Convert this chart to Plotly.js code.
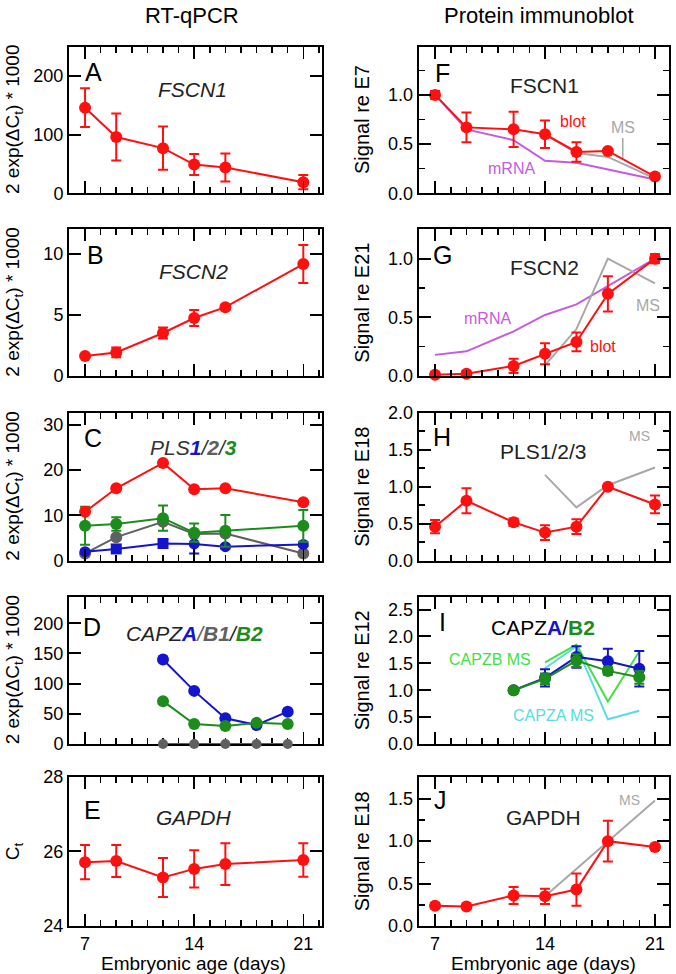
<!DOCTYPE html>
<html>
<head>
<meta charset="utf-8">
<script src="https://cdn.plot.ly/plotly-3.0.1.min.js"></script>
<style>body{margin:0;background:#fff}</style>
</head>
<body>
<div id="plotArea" style="width:676px;height:974px"></div>
<script>
// ---- RT-qPCR (left column) ----
var qDays = [7, 9, 12, 14, 16, 21];
var fscn1Rna = [146, 96, 77, 49, 44, 19];
var fscn1RnaErr = [33, 40, 37, 18, 24, 12];
var fscn2Rna = [1.63, 1.93, 3.52, 4.74, 5.63, 9.16];
var fscn2RnaErr = [0.15, 0.4, 0.45, 0.65, 0.2, 1.55];
var plsSum = [10.8, 16.0, 21.6, 15.8, 16.0, 12.9];
var pls1 = [2.0, 2.6, 3.8, 3.7, 3.1, 3.6];
var pls1Err = [0.4, 0.5, 0.5, 2.1, 0.4, 0.4];
var pls2 = [1.6, 5.2, 8.6, 5.9, 6.0, 1.6];
var pls3 = [7.7, 8.1, 9.4, 6.2, 6.6, 7.7];
var pls3Err = [4.2, 1.5, 2.8, 2.0, 3.5, 3.5];
var capDays = [12, 14, 16, 18, 20];
var capzaRna = [140, 88, 42.5, 31.5, 53.5];
var capzb1Rna = [0, 0, 0, 0, 0];
var capzb2Rna = [71, 33, 30, 35, 33];
var gapdhCt = [25.71, 25.74, 25.30, 25.53, 25.66, 25.77];
var gapdhCtErr = [0.46, 0.43, 0.52, 0.50, 0.56, 0.45];

// ---- immunoblot (right column) ----
var blotDays = [7, 9, 12, 14, 16, 18, 21];
var msDays = [14, 16, 18, 21];
var fscn1Blot = [1.0, 0.67, 0.65, 0.60, 0.42, 0.43, 0.17];
var fscn1BlotErr = [0.04, 0.15, 0.18, 0.14, 0.1, 0.02, 0.02];
var fscn1Mrna = [1.0, 0.65, 0.54, 0.33, 0.31, 0.14];
var fscn1Ms = [0.60, 0.41, 0.37, 0.15];
var fscn2Blot = [0.01, 0.02, 0.086, 0.19, 0.29, 0.70, 1.0];
var fscn2BlotErr = [0.02, 0.02, 0.06, 0.09, 0.08, 0.15, 0.04];
var fscn2Mrna = [0.18, 0.21, 0.38, 0.52, 0.61, 1.0];
var fscn2Ms = [0.09, 0.40, 1.0, 0.79];
var plsBlot = [0.46, 0.81, 0.52, 0.38, 0.46, 1.0, 0.76];
var plsBlotErr = [0.09, 0.17, 0.05, 0.1, 0.1, 0.02, 0.12];
var plsMs = [1.16, 0.72, 1.02, 1.26];
var capzaBlot = [1.0, 1.23, 1.62, 1.54, 1.40];
var capzaBlotErr = [0.03, 0.16, 0.2, 0.23, 0.33];
var capzb2Blot = [1.0, 1.21, 1.55, 1.36, 1.24];
var capzb2BlotErr = [0.03, 0.1, 0.12, 0.07, 0.12];
var capMsDays = [14, 16, 18, 20];
var capzaMs = [1.41, 1.82, 0.46, 0.62];
var capzbMs = [1.52, 1.85, 0.79, 1.72];
var gapdhBlot = [0.24, 0.23, 0.36, 0.35, 0.43, 1.0, 0.93];
var gapdhBlotErr = [0.03, 0.02, 0.1, 0.09, 0.19, 0.24, 0.03];
var gapdhMsDays = [14, 18, 21];
var gapdhMs = [0.35, 1.0, 1.48];

var RED = "#ff1010", BLUE = "#1414cc", GREEN = "#1c8c1c", DGRAY = "#606060",
    MSGRAY = "#a8a8a8", PURPLE = "#c45be0", LGREEN = "#44e044", CYAN = "#55dde2";
var FONT = "Liberation Sans, Arial, sans-serif";

function series(x, y, n, color, err, extra) {
    var t = {
        x: x, y: y, xaxis: "x" + n, yaxis: "y" + n, type: "scatter",
        mode: "lines+markers", cliponaxis: false,
        line: {color: color, width: 2},
        marker: {color: color, size: 12}
    };
    if (err) t.error_y = {type: "data", array: err, visible: true, color: color, thickness: 2, width: 5};
    if (extra) for (var k in extra) t[k] = extra[k];
    return t;
}
function msLine(x, y, n, color) {
    return {x: x, y: y, xaxis: "x" + n, yaxis: "y" + n, type: "scatter", mode: "lines",
        line: {color: color || MSGRAY, width: 2}, cliponaxis: false};
}

var data = [
    series(qDays, fscn1Rna, 1, RED, fscn1RnaErr),
    series(qDays, fscn2Rna, 2, RED, fscn2RnaErr),
    series(qDays, pls2, 3, DGRAY),
    series(qDays, pls1, 3, BLUE, pls1Err, {marker: {color: BLUE, size: 11,
        symbol: ["circle", "square", "square", "circle", "circle", "circle"]}}),
    series(qDays, pls3, 3, GREEN, pls3Err),
    series(qDays, plsSum, 3, RED),
    series(capDays, capzb1Rna, 4, DGRAY, null, {marker: {color: DGRAY, size: 10}}),
    series(capDays, capzaRna, 4, BLUE),
    series(capDays, capzb2Rna, 4, GREEN),
    series(qDays, gapdhCt, 5, RED, gapdhCtErr),

    msLine(qDays, fscn1Mrna, 6, PURPLE),
    msLine(msDays, fscn1Ms, 6),
    series(blotDays, fscn1Blot, 6, RED, fscn1BlotErr),
    msLine(qDays, fscn2Mrna, 7, PURPLE),
    msLine(msDays, fscn2Ms, 7),
    series(blotDays, fscn2Blot, 7, RED, fscn2BlotErr),
    msLine(msDays, plsMs, 8),
    series(blotDays, plsBlot, 8, RED, plsBlotErr),
    msLine(capMsDays, capzaMs, 9, CYAN),
    msLine(capMsDays, capzbMs, 9, LGREEN),
    series(capDays, capzaBlot, 9, BLUE, capzaBlotErr),
    series(capDays, capzb2Blot, 9, GREEN, capzb2BlotErr),
    msLine(gapdhMsDays, gapdhMs, 10),
    series(blotDays, gapdhBlot, 10, RED, gapdhBlotErr)
];

var W = 676, H = 974;
function px(x) { return x / W; }
function py(y) { return 1 - y / H; }
var rows = [[46.7, 193.3], [229.3, 376], [412.7, 560.7], [596.7, 744], [776.7, 926]];
var cols = [[69, 321.7], [418.7, 669.3]];
var xRanges = [[5.97, 22.18], [5.96, 21.91]];
var yRanges = [[0, 250], [0, 12], [0, 32.7], [0, 244], [24, 28],
               [0, 1.49], [0, 1.25], [0, 2], [0, 2.74], [0, 1.76]];
var yDtick = [100, 5, 10, 50, 2, 0.5, 0.5, 0.5, 0.5, 0.5];
var yMinor = [0, 0, 0, 0, 0, 0.25, 0.25, 0.25, 0, 0.25];

var layout = {
    width: W, height: H, margin: {l: 0, r: 0, t: 0, b: 0},
    paper_bgcolor: "#fff", plot_bgcolor: "#fff", showlegend: false,
    font: {family: FONT, color: "#000", size: 18},
    annotations: []
};

for (var i = 0; i < 10; i++) {
    var c = i < 5 ? 0 : 1, r = i % 5, n = i + 1;
    var xa = {
        domain: [px(cols[c][0]), px(cols[c][1])], range: xRanges[c], anchor: "y" + n,
        tick0: 7, dtick: 7, ticks: "inside", ticklen: 12, tickwidth: 1.5, tickcolor: "#000",
        minor: {tick0: 7, dtick: 1, ticks: "inside", ticklen: 6, tickwidth: 1.5, tickcolor: "#000"},
        showline: true, linewidth: 2, linecolor: "#000", mirror: "ticks",
        showgrid: false, zeroline: false, showticklabels: r === 4,
        tickfont: {size: 18, family: FONT}
    };
    var ya = {
        domain: [py(rows[r][1]), py(rows[r][0])], range: yRanges[i], anchor: "x" + n,
        tick0: yRanges[i][0], dtick: yDtick[i], ticks: "inside", ticklen: 12, tickwidth: 2,
        tickcolor: "#000", showline: true, linewidth: 2, linecolor: "#000", mirror: "ticks",
        showgrid: false, zeroline: false, tickfont: {size: 18, family: FONT},
        tickformat: c === 1 ? ".1f" : ""
    };
    if (yMinor[i]) ya.minor = {dtick: yMinor[i], ticks: "inside", ticklen: 6, tickwidth: 1.5, tickcolor: "#000"};
    if (i === 3) { xa.layer = "below traces"; ya.layer = "below traces"; }
    layout["xaxis" + (n === 1 ? "" : n)] = xa;
    layout["yaxis" + (n === 1 ? "" : n)] = ya;
}

function note(x, y, text, size, extra) {
    var a = {xref: "paper", yref: "paper", x: px(x), y: py(y), text: text, showarrow: false,
        xanchor: "center", yanchor: "middle", font: {size: size, family: FONT, color: "#000"}};
    if (extra) for (var k in extra) a[k] = extra[k];
    layout.annotations.push(a);
}
function dnote(n, x, y, text, color, size, extra) {
    var a = {xref: "x" + n, yref: "y" + n, x: x, y: y, text: text, showarrow: false,
        font: {size: size || 16, family: FONT, color: color}};
    if (extra) for (var k in extra) a[k] = extra[k];
    layout.annotations.push(a);
}

// column headers
note(192, 15, "RT-qPCR", 22);
note(539, 15, "Protein immunoblot", 22);

// y titles
var rnaTitle = "2 exp(ΔC<sub>t</sub>) * 1000";
var blotTitles = ["Signal re E7", "Signal re E21", "Signal re E18", "Signal re E12", "Signal re E18"];
for (var r = 0; r < 5; r++) {
    var cy = (rows[r][0] + rows[r][1]) / 2;
    note(14, cy, r === 4 ? "C<sub>t</sub>" : rnaTitle, 19, {textangle: -90});
    note(362, cy, blotTitles[r], 20, {textangle: -90});
}
note(193, 963, "Embryonic age (days)", 19);
note(543, 963, "Embryonic age (days)", 19);

// panel letters
var lettersL = [["A", 94, 72], ["B", 95, 255], ["C", 93, 438], ["D", 92, 627], ["E", 92, 810]];
var lettersR = [["F", 442, 73], ["G", 442, 255], ["H", 442, 437], ["I", 442, 622], ["J", 441, 800]];
lettersL.concat(lettersR).forEach(function (l) { note(l[1], l[2], l[0], 25); });

// gene names
var GT = "#222";
note(192, 90, "<i>FSCN1</i>", 21, {font: {size: 21, family: FONT, color: GT}});
note(193, 272, "<i>FSCN2</i>", 21, {font: {size: 21, family: FONT, color: GT}});
note(193, 448, "<i>PLS<b><span style='color:" + BLUE + "'>1</span></b>/<b><span style='color:" + DGRAY +
    "'>2</span></b>/<b><span style='color:" + GREEN + "'>3</span></b></i>", 21,
    {font: {size: 21, family: FONT, color: "#333"}});
note(194, 633, "<i>CAPZ<b><span style='color:" + BLUE + "'>A</span></b><span style='color:" + DGRAY +
    "'>/</span><b><span style='color:" + DGRAY + "'>B1</span></b>/<b><span style='color:" + GREEN +
    "'>B2</span></b></i>", 21, {font: {size: 21, family: FONT, color: GT}});
note(194, 817, "<i>GAPDH</i>", 21, {font: {size: 21, family: FONT, color: GT}});
note(544, 85, "FSCN1", 21, {font: {size: 21, family: FONT, color: GT}});
note(544, 267, "FSCN2", 21, {font: {size: 21, family: FONT, color: GT}});
note(543, 451, "PLS1/2/3", 21, {font: {size: 21, family: FONT, color: GT}});
note(543, 627, "CAPZ<b><span style='color:" + BLUE + "'>A</span></b>/<b><span style='color:" + GREEN +
    "'>B2</span></b>", 21, {font: {size: 21, family: FONT, color: "#000"}});
note(543, 817, "GAPDH", 21, {font: {size: 21, family: FONT, color: GT}});

// in-panel series labels
dnote(6, 15.77, 0.73, "blot", RED);
dnote(6, 18.95, 0.36, "MS", MSGRAY, 16, {showarrow: true, arrowhead: 0, arrowwidth: 1.5,
    arrowcolor: MSGRAY, ax: 0, ay: -20, yanchor: "bottom"});
dnote(6, 11.84, 0.254, "mRNA", PURPLE);
dnote(7, 10.35, 0.49, "mRNA", PURPLE);
dnote(7, 17.67, 0.25, "blot", RED);
dnote(7, 20.54, 0.6, "MS", MSGRAY);
dnote(8, 19.99, 1.69, "MS", MSGRAY, 14);
dnote(9, 10.5, 1.57, "CAPZB MS", LGREEN);
dnote(9, 14.57, 0.53, "CAPZA MS", CYAN);
dnote(10, 19.37, 1.48, "MS", MSGRAY, 14);

Plotly.newPlot("plotArea", data, layout, {staticPlot: true, displayModeBar: false});
</script>
</body>
</html>
